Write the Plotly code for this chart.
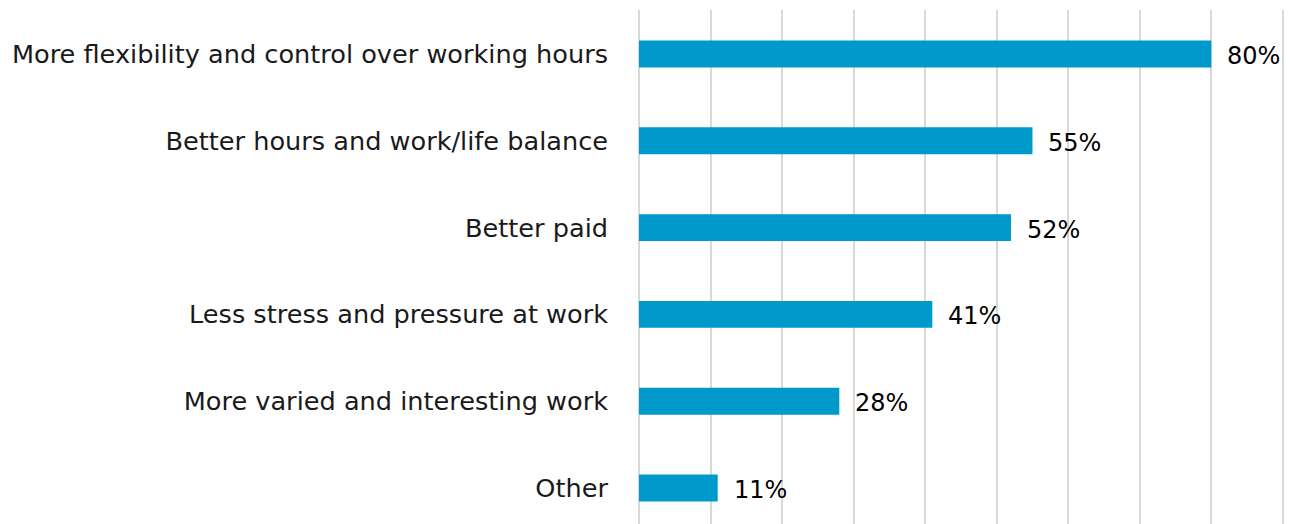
import plotly.graph_objects as go

categories = [
    "More flexibility and control over working hours",
    "Better hours and work/life balance",
    "Better paid",
    "Less stress and pressure at work",
    "More varied and interesting work",
    "Other",
]
values = [80, 55, 52, 41, 28, 11]
value_labels = [f"{v}%" for v in values]

BAR_COLOR = "#0099CC"
FONT = "DejaVu Sans, sans-serif"

fig = go.Figure(
    go.Bar(
        x=values,
        y=categories,
        orientation="h",
        marker=dict(color=BAR_COLOR, line=dict(width=0)),
        width=0.31,
        hoverinfo="skip",
    )
)

for cat, v, lab in zip(categories, values, value_labels):
    fig.add_annotation(
        x=v, y=cat, text=lab, showarrow=False,
        xanchor="left", yanchor="middle", xshift=14, yshift=-2,
        font=dict(family=FONT, size=24, color="#000000"),
    )

fig.update_layout(
    width=1290, height=524,
    margin=dict(l=639, r=5, t=10, b=0),
    paper_bgcolor="white", plot_bgcolor="white",
    showlegend=False,
    font=dict(family=FONT, size=25.6, color="#1a1a1a"),
)
fig.update_xaxes(
    range=[0, 90.3], dtick=10, showticklabels=False,
    showgrid=True, gridcolor="#d9d9d9", gridwidth=2,
    zeroline=True, zerolinecolor="#d9d9d9", zerolinewidth=2,
    showline=False, ticks="",
)
fig.update_yaxes(
    type="category", range=[5.415, -0.507],
    showgrid=False, zeroline=False, showline=False, ticks="",
    ticklabelstandoff=30,
    tickfont=dict(family=FONT, size=25.6, color="#1a1a1a"),
)

fig.write_html("out.html")
